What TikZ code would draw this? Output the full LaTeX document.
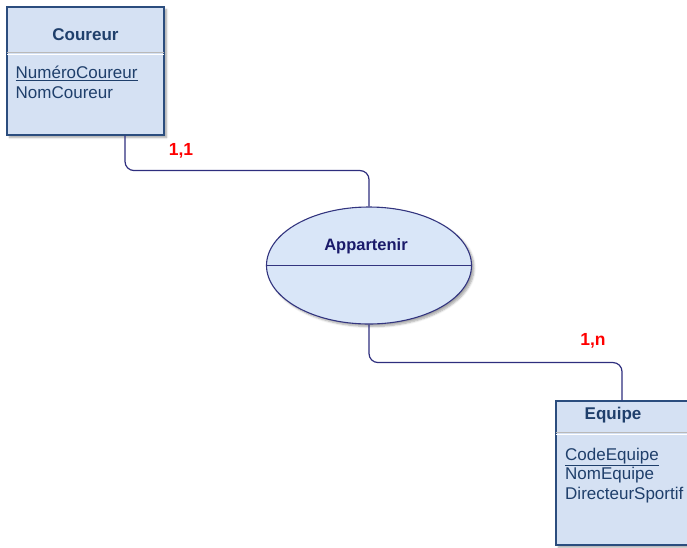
\documentclass[tikz,border=0pt]{standalone}
\usepackage{fontspec}
\setmainfont{Liberation Sans}
\usetikzlibrary{shapes.geometric,shadows.blur,calc}
\definecolor{entfill}{HTML}{D5E1F3}
\definecolor{entline}{HTML}{2B4D7E}
\definecolor{enttext}{HTML}{1F3F6B}
\definecolor{relfill}{HTML}{D9E6F8}
\definecolor{relline}{HTML}{33357F}
\definecolor{reltext}{HTML}{1A1A6A}
\definecolor{linkcol}{HTML}{2E2E7E}
\tikzset{
  entity/.style={rectangle, draw=entline, line width=1.1pt, fill=entfill, inner sep=0pt,
    blur shadow={shadow xshift=2.5pt, shadow yshift=-2.5pt, shadow blur steps=5, shadow opacity=35}},
  relation/.style={ellipse, draw=relline, line width=1.1pt, fill=relfill, inner sep=0pt,
    minimum width=205pt, minimum height=117pt,
    blur shadow={shadow xshift=2.5pt, shadow yshift=-2.5pt, shadow blur steps=5, shadow opacity=35}},
  title/.style={font=\fontsize{17}{20}\selectfont\bfseries, text=enttext, inner sep=0pt},
  attrs/.style={font=\fontsize{17}{19.8}\selectfont, text=enttext, align=left, inner sep=0pt, anchor=north west},
  sep/.style={draw=gray!55, line width=1.2pt},
  link/.style={draw=linkcol, line width=1.2pt, rounded corners=9pt},
  card/.style={font=\fontsize{17.5}{20}\selectfont\bfseries, text=red, inner sep=0pt}
}
\begin{document}
\begin{tikzpicture}[x=1pt, y=-1pt]
\useasboundingbox (0,0) rectangle (687,547);
% Coureur entity
\node[entity, minimum width=157pt, minimum height=128pt] (coureur) at (85.5,71) {};
\draw[sep] (coureur.west |- 0,52.5) -- (coureur.east |- 0,52.5);
\draw[white, line width=0.8pt] (coureur.west |- 0,54.3) -- (coureur.east |- 0,54.3);
\draw[entline, line width=1.1pt] (coureur.north west) rectangle (coureur.south east);
\node[title] (coureurtitle) at (85.5,34.5) {Coureur};
\node[attrs] (coureurattrs) at (15.5,65.5) {\underline{NuméroCoureur}\\NomCoureur};
% Equipe entity
\node[entity, minimum width=140pt, minimum height=144pt] (equipe) at (626,473) {};
\draw[sep] (equipe.west |- 0,432.5) -- (equipe.east |- 0,432.5);
\draw[white, line width=0.8pt] (equipe.west |- 0,434.3) -- (equipe.east |- 0,434.3);
\draw[entline, line width=1.1pt] (equipe.north west) rectangle (equipe.south east);
\node[title] (equipetitle) at (613,415.5) {Equipe};
\node[attrs] (equipeattrs) at (565,447.5) {\underline{CodeEquipe}\\NomEquipe\\DirecteurSportif};
% Appartenir relation
\node[relation] (rel) at (369,265.5) {};
\draw[relline, line width=1.1pt] (rel.west) -- (rel.east);
\node[font=\fontsize{16.5}{20}\selectfont\bfseries, text=reltext, inner sep=0pt] (reltitle) at (366,246.5) {Appartenir};
% links
\draw[link] ([xshift=39.5pt]coureur.south) -- ++(0,35) -| (rel.north);
\draw[link] (rel.south) -- ++(0,38) -| ([xshift=-4pt]equipe.north);
% cardinalities
\node[card] (card1) at (181,150.5) {1,1};
\node[card] (card2) at (593,340.5) {1,n};
\end{tikzpicture}
\end{document}
